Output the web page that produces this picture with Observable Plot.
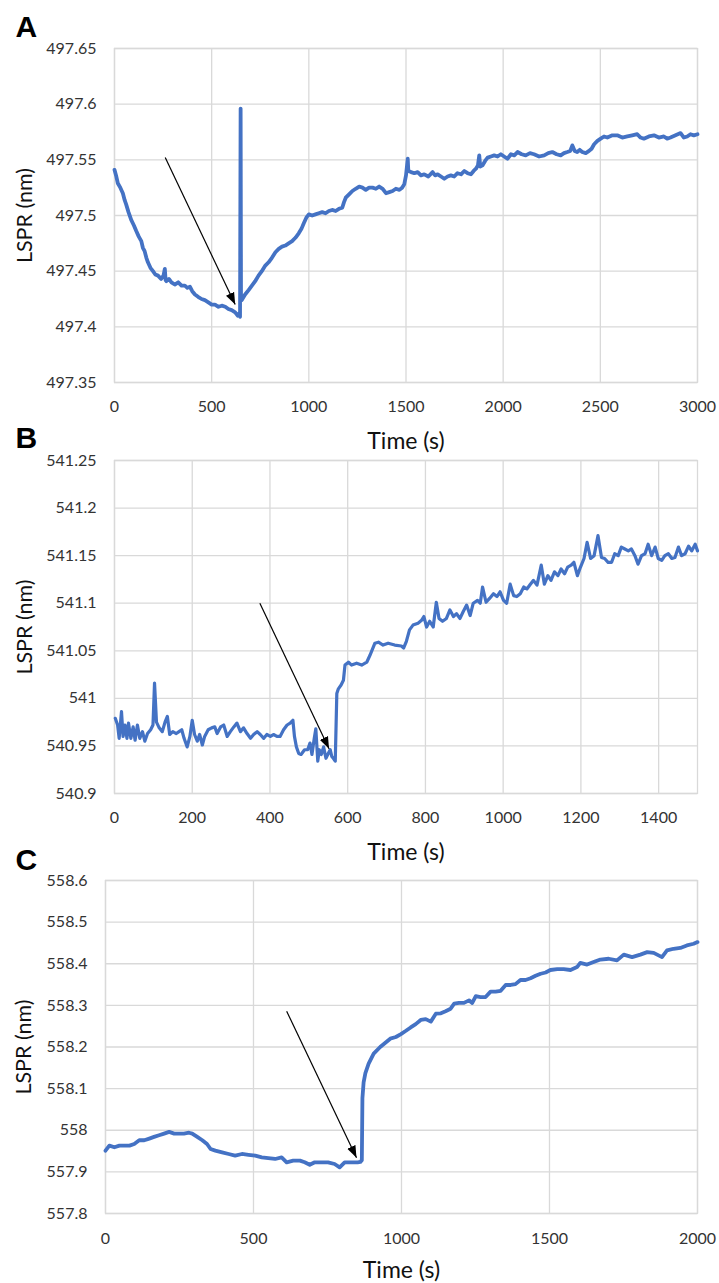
<!DOCTYPE html>
<html>
<head>
<meta charset="utf-8">
<script src="https://cdn.jsdelivr.net/npm/d3@7"></script>
<script src="https://cdn.jsdelivr.net/npm/@observablehq/plot@0.6"></script>
<style>
  body { margin: 0; background: #fff; }
  #fig { position: relative; width: 719px; height: 1283px; background: #fff; font-family: Lato, "Open Sans", sans-serif; }
  #fig .panel { position: absolute; left: 0; }
</style>
</head>
<body>
<div id="fig"></div>
<script>
// ---- Panel A: LSPR shift over 3000 s ----
const timeA = [
  0, 8, 17, 30, 43, 52, 60, 72, 86, 100,
  112, 125, 138, 146, 155, 164, 172, 185, 198, 210,
  224, 240, 252, 259, 263, 267, 280, 293, 310, 328,
  345, 362, 375, 388, 400, 414, 430, 448, 465, 483,
  500, 517, 535, 552, 570, 586, 603, 621, 634, 641,
  646, 649, 651, 655, 672, 690, 707, 724, 741, 758,
  776, 793, 810, 828, 845, 862, 879, 896, 914, 931,
  948, 962, 974, 987, 1000, 1017, 1034, 1051, 1069, 1086,
  1103, 1120, 1138, 1155, 1172, 1181, 1190, 1207, 1224, 1241,
  1259, 1276, 1293, 1310, 1328, 1345, 1362, 1380, 1397, 1414,
  1431, 1448, 1466, 1480, 1491, 1500, 1509, 1512, 1526, 1543,
  1560, 1577, 1594, 1615, 1637, 1650, 1663, 1680, 1697, 1714,
  1731, 1748, 1765, 1783, 1800, 1817, 1834, 1848, 1860, 1870,
  1877, 1882, 1894, 1907, 1920, 1937, 1954, 1971, 1988, 2005,
  2022, 2040, 2057, 2074, 2095, 2116, 2138, 2159, 2185, 2211,
  2232, 2253, 2275, 2296, 2313, 2330, 2345, 2356, 2368, 2381,
  2394, 2407, 2425, 2442, 2455, 2468, 2485, 2502, 2519, 2536,
  2562, 2587, 2613, 2639, 2664, 2690, 2707, 2724, 2750, 2776,
  2801, 2827, 2844, 2861, 2887, 2913, 2930, 2947, 2964, 2981,
  3000
];
const lsprA = [
  497.541, 497.536, 497.529, 497.525, 497.520, 497.514, 497.510, 497.503, 497.496, 497.491,
  497.486, 497.481, 497.477, 497.471, 497.468, 497.462, 497.458, 497.453, 497.450, 497.447,
  497.446, 497.443, 497.446, 497.452, 497.442, 497.441, 497.443, 497.440, 497.438, 497.440,
  497.437, 497.437, 497.435, 497.436, 497.432, 497.429, 497.427, 497.425, 497.424, 497.422,
  497.420, 497.420, 497.418, 497.419, 497.418, 497.416, 497.415, 497.413, 497.410, 497.412,
  497.409, 497.596, 497.426, 497.424, 497.429, 497.433, 497.437, 497.441, 497.446, 497.450,
  497.455, 497.458, 497.462, 497.467, 497.470, 497.472, 497.473, 497.475, 497.477, 497.480,
  497.484, 497.488, 497.493, 497.498, 497.501, 497.500, 497.501, 497.502, 497.503, 497.502,
  497.504, 497.505, 497.504, 497.506, 497.507, 497.512, 497.516, 497.519, 497.522, 497.524,
  497.526, 497.525, 497.523, 497.525, 497.525, 497.524, 497.526, 497.524, 497.520, 497.521,
  497.522, 497.524, 497.523, 497.525, 497.528, 497.536, 497.551, 497.540, 497.539, 497.538,
  497.539, 497.536, 497.537, 497.535, 497.539, 497.536, 497.537, 497.535, 497.533, 497.535,
  497.536, 497.535, 497.538, 497.537, 497.540, 497.538, 497.537, 497.540, 497.542, 497.545,
  497.554, 497.544, 497.545, 497.549, 497.552, 497.553, 497.554, 497.553, 497.555, 497.553,
  497.551, 497.555, 497.554, 497.557, 497.555, 497.554, 497.556, 497.555, 497.553, 497.554,
  497.556, 497.557, 497.555, 497.554, 497.556, 497.557, 497.558, 497.563, 497.558, 497.557,
  497.559, 497.557, 497.556, 497.558, 497.560, 497.564, 497.567, 497.569, 497.571, 497.570,
  497.572, 497.572, 497.570, 497.571, 497.572, 497.573, 497.570, 497.569, 497.571, 497.572,
  497.570, 497.571, 497.569, 497.570, 497.572, 497.574, 497.570, 497.571, 497.573, 497.572,
  497.573
];
const xTicksA = [0, 500, 1000, 1500, 2000, 2500, 3000];
const yTicksA = [497.35, 497.4, 497.45, 497.5, 497.55, 497.6, 497.65];
const arrowA = {x1: 261, y1: 497.552, x2: 621, y2: 497.420};

// ---- Panel B: LSPR shift over 1500 s ----
const timeB = [
  2, 8, 12, 18, 22, 27, 32, 36, 42, 48,
  53, 59, 65, 72, 78, 85, 93, 99, 103, 108,
  115, 123, 130, 136, 142, 150, 159, 166, 173, 179,
  187, 194, 200, 206, 213, 219, 226, 232, 241, 250,
  258, 264, 273, 281, 290, 298, 307, 315, 324, 332,
  341, 350, 358, 367, 375, 384, 392, 401, 409, 418,
  426, 435, 444, 452, 459, 463, 468, 474, 480, 489,
  497, 503, 508, 514, 518, 523, 527, 532, 538, 544,
  550, 555, 559, 563, 568, 572, 576, 583, 589, 593,
  602, 610, 623, 636, 649, 657, 670, 679, 691, 704,
  721, 738, 744, 751, 759, 768, 781, 790, 796, 803,
  811, 820, 828, 835, 844, 854, 863, 872, 880, 889,
  897, 906, 915, 923, 934, 941, 947, 956, 965, 975,
  984, 992, 1001, 1009, 1018, 1027, 1035, 1044, 1053, 1061,
  1070, 1078, 1087, 1098, 1106, 1115, 1123, 1132, 1141, 1149,
  1158, 1166, 1175, 1182, 1191, 1199, 1208, 1216, 1225, 1234,
  1244, 1253, 1261, 1270, 1279, 1287, 1296, 1304, 1313, 1322,
  1330, 1339, 1347, 1356, 1365, 1373, 1382, 1391, 1399, 1408,
  1416, 1425, 1434, 1442, 1451, 1459, 1468, 1477, 1485, 1494,
  1500
];
const lsprB = [
  540.979, 540.972, 540.958, 540.986, 540.960, 540.972, 540.958, 540.974, 540.958, 540.970,
  540.956, 540.972, 540.958, 540.965, 540.955, 540.963, 540.967, 540.972, 541.016, 540.975,
  540.969, 540.965, 540.975, 540.981, 540.962, 540.965, 540.963, 540.965, 540.967, 540.958,
  540.949, 540.960, 540.977, 540.962, 540.955, 540.962, 540.951, 540.960, 540.967, 540.969,
  540.970, 540.963, 540.970, 540.972, 540.960, 540.965, 540.970, 540.974, 540.965, 540.969,
  540.963, 540.958, 540.962, 540.965, 540.962, 540.958, 540.962, 540.960, 540.962, 540.960,
  540.960, 540.967, 540.972, 540.974, 540.977, 540.960, 540.949, 540.942, 540.941, 540.946,
  540.946, 540.953, 540.941, 540.958, 540.968, 540.934, 540.946, 540.941, 540.949, 540.937,
  540.942, 540.946, 540.939, 540.937, 540.934, 541.005, 541.010, 541.014, 541.019, 541.035,
  541.038, 541.035, 541.037, 541.035, 541.038, 541.045, 541.058, 541.059, 541.056, 541.058,
  541.056, 541.055, 541.053, 541.060, 541.072, 541.077, 541.079, 541.082, 541.086, 541.075,
  541.081, 541.075, 541.101, 541.084, 541.081, 541.084, 541.093, 541.086, 541.089, 541.084,
  541.091, 541.098, 541.087, 541.100, 541.103, 541.100, 541.117, 541.101, 541.105, 541.110,
  541.107, 541.112, 541.103, 541.100, 541.120, 541.108, 541.107, 541.110, 541.117, 541.115,
  541.120, 541.124, 541.119, 541.140, 541.120, 541.129, 541.124, 541.133, 541.129, 541.136,
  541.131, 541.138, 541.140, 541.143, 541.129, 541.138, 541.147, 541.164, 541.147, 541.150,
  541.171, 541.148, 541.147, 541.143, 541.143, 541.152, 541.150, 541.159, 541.157, 541.155,
  541.157, 541.150, 541.141, 541.150, 541.152, 541.162, 541.150, 541.159, 541.147, 541.145,
  541.150, 541.152, 541.147, 541.148, 541.159, 541.150, 541.152, 541.160, 541.155, 541.162,
  541.155
];
const xTicksB = [0, 200, 400, 600, 800, 1000, 1200, 1400];
const yTicksB = [540.9, 540.95, 541, 541.05, 541.1, 541.15, 541.2, 541.25];
const arrowB = {x1: 374, y1: 541.100, x2: 552, y2: 540.947};

// ---- Panel C: LSPR shift over 2000 s ----
const timeC = [
  0, 13, 30, 47, 64, 81, 97, 114, 131, 148,
  164, 181, 198, 215, 232, 248, 265, 282, 293, 310,
  327, 343, 355, 371, 394, 416, 438, 461, 483, 506,
  528, 550, 573, 595, 612, 634, 657, 673, 690, 707,
  729, 752, 774, 791, 808, 830, 852, 861, 866, 868,
  872, 878, 889, 906, 928, 962, 981, 998, 1015, 1031,
  1048, 1065, 1082, 1099, 1116, 1133, 1149, 1166, 1178, 1194,
  1211, 1228, 1239, 1251, 1267, 1284, 1301, 1318, 1335, 1352,
  1369, 1385, 1402, 1419, 1436, 1453, 1470, 1487, 1503, 1526,
  1548, 1571, 1593, 1604, 1627, 1649, 1672, 1700, 1728, 1751,
  1779, 1807, 1830, 1852, 1880, 1897, 1919, 1942, 1964, 1987,
  2000
];
const lsprC = [
  557.951, 557.963, 557.959, 557.963, 557.963, 557.963, 557.967, 557.976, 557.976, 557.980,
  557.984, 557.988, 557.992, 557.996, 557.992, 557.992, 557.992, 557.994, 557.992, 557.984,
  557.976, 557.967, 557.955, 557.951, 557.947, 557.943, 557.939, 557.943, 557.941, 557.939,
  557.935, 557.933, 557.931, 557.935, 557.923, 557.927, 557.927, 557.923, 557.917, 557.923,
  557.923, 557.923, 557.919, 557.911, 557.923, 557.923, 557.923, 557.924, 557.928, 558.077,
  558.115, 558.137, 558.160, 558.184, 558.200, 558.220, 558.224, 558.231, 558.239, 558.247,
  558.255, 558.265, 558.267, 558.261, 558.280, 558.281, 558.286, 558.292, 558.304, 558.306,
  558.306, 558.312, 558.306, 558.322, 558.320, 558.320, 558.333, 558.333, 558.335, 558.349,
  558.349, 558.351, 558.361, 558.361, 558.365, 558.371, 558.376, 558.379, 558.385, 558.387,
  558.387, 558.385, 558.392, 558.402, 558.398, 558.404, 558.410, 558.412, 558.408, 558.422,
  558.416, 558.422, 558.428, 558.426, 558.416, 558.432, 558.436, 558.438, 558.444, 558.448,
  558.452
];
const xTicksC = [0, 500, 1000, 1500, 2000];
const yTicksC = [557.8, 557.9, 558, 558.1, 558.2, 558.3, 558.4, 558.5, 558.6];
const arrowC = {x1: 612, y1: 558.286, x2: 848, y2: 557.934};

const LINE = "#4472c4";
const GRID = "#d9d9d9";
const FONT = "Lato, 'Open Sans', sans-serif";

function drawPanel(cfg) {
  const n = Math.min(cfg.times.length, cfg.values.length);
  const data = d3.range(n).map(i => ({t: cfg.times[i], v: cfg.values[i]}));
  const svg = Plot.plot({
    width: 719,
    height: cfg.height,
    marginTop: cfg.marginTop,
    marginBottom: cfg.marginBottom,
    marginLeft: cfg.marginLeft,
    marginRight: 22,
    style: {background: "transparent", fontFamily: FONT, overflow: "visible"},
    x: {domain: cfg.xDomain, axis: null},
    y: {domain: cfg.yDomain, axis: null},
    marks: [
      Plot.ruleX(cfg.xTicks, {stroke: GRID, strokeWidth: 1.3}),
      Plot.ruleY(cfg.yTicks, {stroke: GRID, strokeWidth: 1.3}),
      Plot.frame({stroke: GRID, strokeWidth: 1.3}),
      Plot.line(data, {x: "t", y: "v", stroke: LINE, strokeWidth: cfg.lineWidth, strokeLinejoin: "round", strokeLinecap: "round"}),
      Plot.link([cfg.arrow], {x1: "x1", y1: "y1", x2: "x2", y2: "y2", stroke: "black", strokeWidth: 1.2, markerEnd: "arrow"}),
      // tick labels
      Plot.text(cfg.xTicks, {x: d => d, text: d => String(d), frameAnchor: "bottom", lineAnchor: "middle", textAnchor: "middle", dy: cfg.xTickDy, fontSize: 16, fill: "#333"}),
      Plot.text(cfg.yTicks, {y: d => d, text: d => String(d), frameAnchor: "left", lineAnchor: "middle", textAnchor: "end", dx: -18, fontSize: 16, fill: "#333"}),
      // axis titles
      Plot.text(["Time (s)"], {frameAnchor: "bottom", lineAnchor: "middle", textAnchor: "middle", dy: cfg.xLabelDy, fontSize: 23, fill: "#111"}),
      Plot.text(["LSPR (nm)"], {frameAnchor: "left", lineAnchor: "middle", textAnchor: "middle", dx: cfg.yLabelDx, rotate: -90, fontSize: 21.5, fill: "#111"}),
      // panel letter
      Plot.text([cfg.letter], {frameAnchor: "top-left", lineAnchor: "middle", textAnchor: "start", dx: cfg.letterDx, dy: cfg.letterDy, fontSize: 30, fontWeight: "bold", fontFamily: "'Liberation Sans', Arial, sans-serif", fill: "#000"})
    ]
  });
  // filled triangular arrowheads
  d3.select(svg).selectAll("marker")
    .attr("viewBox", "-12 -5 12 10")
    .attr("markerWidth", 12)
    .attr("markerHeight", 10)
    .attr("markerUnits", "userSpaceOnUse")
    .attr("refX", 0).attr("refY", 0)
    .attr("fill", "#000").attr("stroke", "none")
    .each(function () {
      const m = d3.select(this);
      m.selectAll("*").remove();
      m.append("path").attr("d", "M-12,-4.5L0,0L-12,4.5Z");
    });
  const holder = document.createElement("div");
  holder.className = "panel";
  holder.style.top = cfg.top + "px";
  holder.appendChild(svg);
  document.getElementById("fig").appendChild(holder);
}

drawPanel({
  letter: "A", times: timeA, values: lsprA, lineWidth: 3.8,
  xDomain: [0, 3000], yDomain: [497.35, 497.65], xTicks: xTicksA, yTicks: yTicksA, arrow: arrowA,
  top: 0, height: 460, marginTop: 48, marginBottom: 78, marginLeft: 114,
  xTickDy: 24, xLabelDy: 59, yLabelDx: -89, letterDx: -99, letterDy: -21
});
drawPanel({
  letter: "B", times: timeB, values: lsprB, lineWidth: 3.2,
  xDomain: [0, 1500], yDomain: [540.9, 541.25], xTicks: xTicksB, yTicks: yTicksB, arrow: arrowB,
  top: 410, height: 460, marginTop: 50, marginBottom: 77, marginLeft: 114,
  xTickDy: 24, xLabelDy: 59, yLabelDx: -89, letterDx: -99, letterDy: -22
});
drawPanel({
  letter: "C", times: timeC, values: lsprC, lineWidth: 3.8,
  xDomain: [0, 2000], yDomain: [557.8, 558.6], xTicks: xTicksC, yTicks: yTicksC, arrow: arrowC,
  top: 830, height: 453, marginTop: 50, marginBottom: 70, marginLeft: 105,
  xTickDy: 25, xLabelDy: 57, yLabelDx: -81, letterDx: -90, letterDy: -20
});
</script>
</body>
</html>
